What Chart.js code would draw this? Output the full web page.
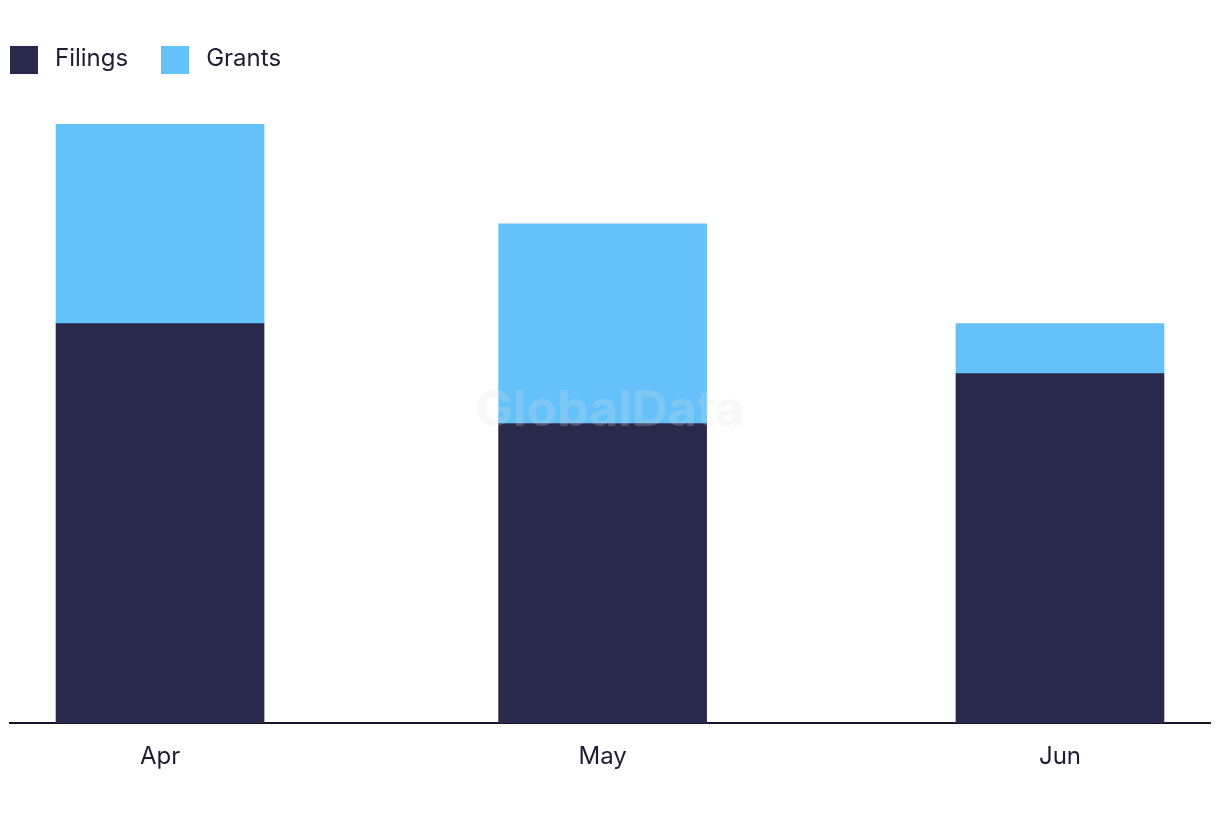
<!DOCTYPE html>
<html>
<head>
<meta charset="utf-8">
<script src="https://cdn.jsdelivr.net/npm/chart.js@4"></script>
<style>
  body{margin:0;background:#fff;font-family:Inter,"Open Sans",sans-serif;}
  .wrap{position:relative;width:1220px;height:822px;}
  .legend{position:absolute;left:10px;top:46px;display:flex;align-items:center;color:#1c1d33;font-size:24px;line-height:28px;}
  .legend span.box{display:inline-block;width:28px;height:28px;margin-right:17px;}
  .legend .item{display:flex;align-items:center;margin-right:33px;}
  .legend .txt{position:relative;top:-2px;}
</style>
</head>
<body>
<div class="wrap">
  <div class="legend" id="legend"></div>
  <canvas id="chart" width="1220" height="822"></canvas>
</div>
<script>
const months=["Apr","May","Jun"];
const monthStarts=[new Date(2023,3,1),new Date(2023,4,1),new Date(2023,5,1)];
const filings=[8,6,7];
const grants=[4,4,1];
const seriesNames=["Filings","Grants"];
const seriesColors=["#28294b","#64c1f9"];

// days from first month, the axis is a time scale so spacing follows month length
const dayPos=monthStarts.map(d=>Math.round((d-monthStarts[0])/86400000));

const legendEl=document.getElementById("legend");
seriesNames.forEach((n,i)=>{
  const it=document.createElement("div");
  it.className="item";
  it.innerHTML='<span class="box" style="background:'+seriesColors[i]+'"></span><span class="txt">'+n+'</span>';
  legendEl.appendChild(it);
});

const watermark={
  id:"watermark",
  afterDatasetsDraw(chart){
    const {ctx,chartArea}=chart;
    ctx.save();
    ctx.font="bold 50px Inter, Arial, sans-serif";
    ctx.fillStyle="rgba(225,225,225,0.22)";
    ctx.textAlign="center";
    ctx.textBaseline="middle";
    ctx.fillText("GlobalData",(chartArea.left+chartArea.right)/2,411);
    ctx.restore();
  }
};

const pad=10.17;
new Chart(document.getElementById("chart"),{
  type:"bar",
  data:{
    datasets:[
      {label:seriesNames[0],data:dayPos.map((x,i)=>({x:x,y:filings[i]})),backgroundColor:seriesColors[0],barThickness:208},
      {label:seriesNames[1],data:dayPos.map((x,i)=>({x:x,y:grants[i]})),backgroundColor:seriesColors[1],barThickness:208}
    ]
  },
  options:{
    responsive:false,
    animation:false,
    layout:{padding:{left:10,right:10,top:124,bottom:0}},
    plugins:{legend:{display:false},tooltip:{enabled:false}},
    scales:{
      x:{
        type:"linear",
        stacked:true,
        offset:false,
        min:dayPos[0]-pad,
        max:dayPos[dayPos.length-1]+pad,
        afterBuildTicks:(s)=>{s.ticks=dayPos.map(v=>({value:v}));},
        afterFit:(s)=>{s.height=99;},
        grid:{display:false,drawTicks:false,offset:false},
        border:{display:true,color:"#14142a",width:2},
        ticks:{
          autoSkip:false,
          maxRotation:0,
          padding:19,
          color:"#1c1d33",
          font:{size:24,family:"Inter, 'Open Sans', sans-serif"},
          callback:(v)=>{const i=dayPos.indexOf(v);return i>=0?months[i]:"";}
        }
      },
      y:{stacked:true,display:false,min:0,max:12}
    }
  },
  plugins:[watermark]
});
</script>
</body>
</html>
